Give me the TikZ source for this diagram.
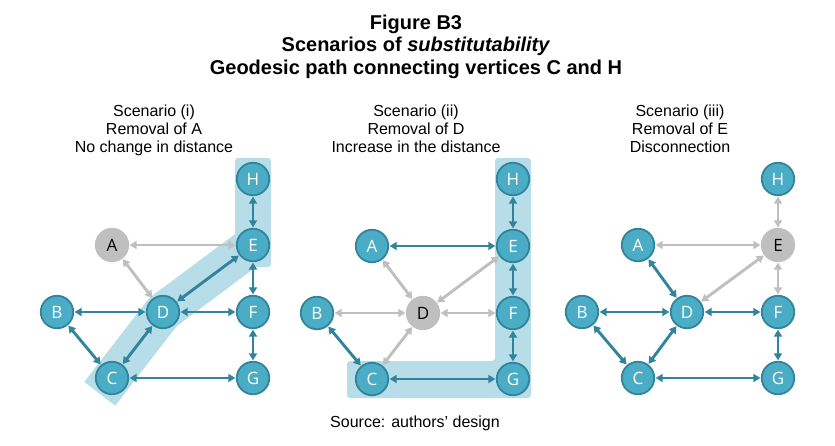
\documentclass[tikz,border=0pt]{standalone}
\usepackage{fontspec}
\setmainfont{Liberation Sans}
\newfontfamily\nodefont{Open Sans}
\usetikzlibrary{arrows.meta,calc,backgrounds}
\definecolor{nodefill}{HTML}{4BACC6}
\definecolor{nodeedge}{HTML}{31849B}
\definecolor{edgec}{HTML}{31849B}
\definecolor{grayc}{HTML}{BFBFBF}
\definecolor{bandc}{HTML}{B7DDE8}
\tikzset{
  nd/.style={circle, minimum size=32.5pt, inner sep=0pt, line width=1.8pt, draw=nodeedge, fill=nodefill, text=white, font=\nodefont\fontsize{17}{17}\selectfont},
  gnd/.style={nd, draw=grayc, fill=grayc, text=black},
  te/.style={draw=edgec, line width=2.9pt, shorten <=0.5pt, shorten >=0.5pt, {Triangle[length=7pt,width=8pt]}-{Triangle[length=7pt,width=8pt]}},
  ge/.style={te, draw=grayc},
  txt/.style={anchor=base, inner sep=0pt, font=\fontsize{16}{18}\selectfont},
  ttl/.style={anchor=base, inner sep=0pt, font=\bfseries\fontsize{20}{22}\selectfont},
  bandfill/.style={fill=bandc, rounded corners=3pt},
}
\begin{document}
\begin{tikzpicture}[x=1pt, y=-1pt]
\useasboundingbox (0,0) rectangle (835,445);
% titles
\node[ttl] (t1) at (416,29) {Figure B3};
\node[ttl] (t2) at (416,51.5) {Scenarios of \textit{substitutability}};
\node[ttl] (t3) at (416,74) {Geodesic path connecting vertices C and H};
% headers
\node[txt] (h1a) at (154,116) {Scenario (i)};
\node[txt] (h1b) at (154,134) {Removal of A};
\node[txt] (h1c) at (154,152) {No change in distance};
\node[txt] (h2a) at (416,116) {Scenario (ii)};
\node[txt] (h2b) at (416,134) {Removal of D};
\node[txt] (h2c) at (416,152) {Increase in the distance};
\node[txt] (h3a) at (680,116) {Scenario (iii)};
\node[txt] (h3b) at (680,134) {Removal of E};
\node[txt] (h3c) at (680,152) {Disconnection};
\node[txt] (src) at (415,427) {Source: authors' design};

% ---- panel 1 nodes
\node[gnd] (A1) at (112,245) {A};
\node[nd] (B1) at (57,312) {B};
\node[nd] (C1) at (112,378) {C};
\node[nd] (D1) at (163,312) {D};
\node[nd] (E1) at (253,245) {E};
\node[nd] (F1) at (253,312) {F};
\node[nd] (G1) at (253,378) {G};
\node[nd] (H1) at (253,179) {H};
% ---- panel 2 nodes
\node[nd] (A2) at (372,246) {A};
\node[nd] (B2) at (317,313) {B};
\node[nd] (C2) at (372,379) {C};
\node[gnd] (D2) at (423,313) {D};
\node[nd] (E2) at (513,246) {E};
\node[nd] (F2) at (513,313) {F};
\node[nd] (G2) at (513,379) {G};
\node[nd] (H2) at (513,179) {H};
% ---- panel 3 nodes
\node[nd] (A3) at (638,245) {A};
\node[nd] (B3) at (582,312) {B};
\node[nd] (C3) at (638,378) {C};
\node[nd] (D3) at (687,312) {D};
\node[gnd] (E3) at (778,245) {E};
\node[nd] (F3) at (778,312) {F};
\node[nd] (G3) at (778,378) {G};
\node[nd] (H3) at (778,179) {H};

% ---- bands
\begin{scope}[on background layer]
  \fill[bandfill] (235,158) rectangle (271,267);
  \draw[bandc, line width=39pt, line join=round] (E1.center) -- (D1.center) -- ($(C1.center)!-20pt!(D1.center)$);
  \fill[bandfill] (495,158) -- (531,158) -- (531,398) -- (347,398) -- (347,361) -- (495,361) -- cycle;
\end{scope}

% ---- panel 1 edges
\draw[te] (H1) -- (E1);
\draw[ge] (A1) -- (E1);
\draw[ge] (A1) -- (D1);
\draw[te] (E1) -- (D1);
\draw[te] (E1) -- (F1);
\draw[te] (B1) -- (D1);
\draw[te] (D1) -- (F1);
\draw[te] (B1) -- (C1);
\draw[te] (C1) -- (D1);
\draw[te] (F1) -- (G1);
\draw[te] (C1) -- (G1);
% ---- panel 2 edges
\draw[te] (H2) -- (E2);
\draw[te] (A2) -- (E2);
\draw[ge] (A2) -- (D2);
\draw[ge] (E2) -- (D2);
\draw[te] (E2) -- (F2);
\draw[ge] (B2) -- (D2);
\draw[ge] (D2) -- (F2);
\draw[te] (B2) -- (C2);
\draw[ge] (C2) -- (D2);
\draw[te] (F2) -- (G2);
\draw[te] (C2) -- (G2);
% ---- panel 3 edges
\draw[ge] (H3) -- (E3);
\draw[ge] (A3) -- (E3);
\draw[te] (A3) -- (D3);
\draw[ge] (E3) -- (D3);
\draw[ge] (E3) -- (F3);
\draw[te] (B3) -- (D3);
\draw[te] (D3) -- (F3);
\draw[te] (B3) -- (C3);
\draw[te] (C3) -- (D3);
\draw[te] (F3) -- (G3);
\draw[te] (C3) -- (G3);
\end{tikzpicture}
\end{document}
